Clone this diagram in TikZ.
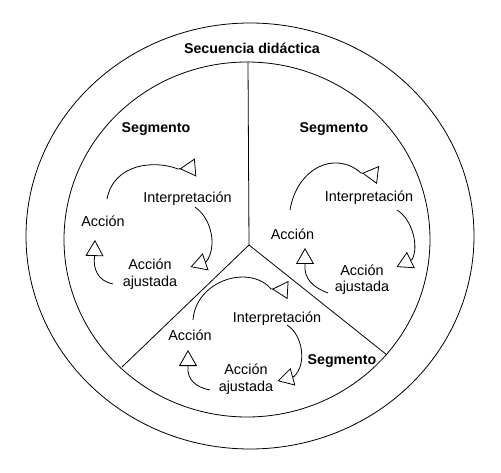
\documentclass[tikz,border=0pt]{standalone}
\usepackage{fontspec}
\setmainfont{Liberation Sans}
\usetikzlibrary{arrows.meta}
\begin{document}
\begin{tikzpicture}[x=1pt,y=-1pt,line width=0.8pt,
  txt/.style={font=\fontsize{14.4}{16.5}\selectfont, inner sep=0pt, align=center, anchor=base},
  ttl/.style={txt, font=\fontsize{14.2}{16.5}\selectfont\bfseries},
  fwd/.style={-{Triangle[open,length=16pt,width=18pt]}},
  bwd/.style={-{Triangle[open,reversed,length=16pt,width=18pt]}},
]
\useasboundingbox (0,0) rectangle (501,473);
% rings
\draw (250,236) ellipse [x radius=224pt, y radius=213pt];
\draw (247,239.5) ellipse [x radius=183pt, y radius=177.5pt];
% dividers
\coordinate (ctr) at (249,245);
\coordinate (dtop) at (248,62);
\coordinate (dleft) at (122,367);
\coordinate (dright) at (387,355);
\draw (ctr) -- (dtop);
\draw (ctr) -- (dleft);
\draw (ctr) -- (dright);
% titles
\node[ttl] (title) at (252,54) {Secuencia didáctica};
\node[ttl] (segL) at (156,133) {Segmento};
\node[ttl] (segR) at (334,133) {Segmento};
\node[ttl] (segB) at (342,364) {Segmento};
% left cycle
\node[txt] (intL) at (187.5,203) {Interpretación};
\node[txt] (accL) at (103,227) {Acción};
\node[txt] (ajuL) at (150,286.5) {Acción\\ajustada};
% right cycle
\node[txt] (intR) at (369,202) {Interpretación};
\node[txt] (accR) at (292.5,240) {Acción};
\node[txt] (ajuR) at (362,292) {Acción\\ajustada};
% bottom cycle
\node[txt] (intB) at (277,323) {Interpretación};
\node[txt] (accB) at (190,340) {Acción};
\node[txt] (ajuB) at (246,391) {Acción\\ajustada};
% connector ends (left)
\coordinate (a1s) at ([shift={(4,-28)}]accL.base);
\coordinate (a1v) at ([shift={(-9.5,-34)}]intL.base);
\coordinate (a1e) at ([shift={(8,-35.5)}]intL.base);
\coordinate (a2s) at ([shift={(7.5,4)}]intL.base);
\coordinate (a2b) at ([shift={(56.5,-25)}]ajuL.base);
\coordinate (a2t) at ([shift={(40.5,-19.5)}]ajuL.base);
\coordinate (a3s) at ([shift={(-37,-2.5)}]ajuL.base);
\coordinate (a3b) at ([shift={(-8.5,30)}]accL.base);
\coordinate (a3t) at ([shift={(-8,13)}]accL.base);
% connector ends (right)
\coordinate (b1s) at ([shift={(-2.5,-30)}]accR.base);
\coordinate (b1v) at ([shift={(-8,-29)}]intR.base);
\coordinate (b1e) at ([shift={(9,-27)}]intR.base);
\coordinate (b2s) at ([shift={(28,8)}]intR.base);
\coordinate (b2b) at ([shift={(50,-32.5)}]ajuR.base);
\coordinate (b2t) at ([shift={(34.5,-25)}]ajuR.base);
\coordinate (b3s) at ([shift={(-34,1)}]ajuR.base);
\coordinate (b3b) at ([shift={(12.5,25)}]accR.base);
\coordinate (b3t) at ([shift={(12.5,8)}]accR.base);
% connector ends (bottom)
\coordinate (c1s) at ([shift={(3,-20)}]accB.base);
\coordinate (c1v) at ([shift={(-6,-34)}]intB.base);
\coordinate (c1e) at ([shift={(11,-33)}]intB.base);
\coordinate (c2s) at ([shift={(10,2)}]intB.base);
\coordinate (c2b) at ([shift={(48,-14.5)}]ajuB.base);
\coordinate (c2t) at ([shift={(31.5,-10)}]ajuB.base);
\coordinate (c3s) at ([shift={(-36,-1)}]ajuB.base);
\coordinate (c3b) at ([shift={(-2,27)}]accB.base);
\coordinate (c3t) at ([shift={(-2,10)}]accB.base);
% connectors
\draw[bwd] (a1s) .. controls +(7,-36) and +(-23,-9) .. (a1v) -- (a1e);
\draw[fwd] (a2s) .. controls +(18,13) and +(10,-14) .. (a2b) -- (a2t);
\draw[fwd] (a3s) .. controls +(-15,-3) and +(-1.5,12) .. (a3b) -- (a3t);
\draw[bwd] (b1s) .. controls +(7,-42) and +(-26,-23) .. (b1v) -- (b1e);
\draw[fwd] (b2s) .. controls +(16,10) and +(7,-12) .. (b2b) -- (b2t);
\draw[fwd] (b3s) .. controls +(-16,-6) and +(-1,13) .. (b3b) -- (b3t);
\draw[bwd] (c1s) .. controls +(3,-40) and +(-21,-25) .. (c1v) -- (c1e);
\draw[fwd] (c2s) .. controls +(16,10) and +(13,-12) .. (c2b) -- (c2t);
\draw[fwd] (c3s) .. controls +(-15,-3) and +(-1,12) .. (c3b) -- (c3t);
\end{tikzpicture}
\end{document}
